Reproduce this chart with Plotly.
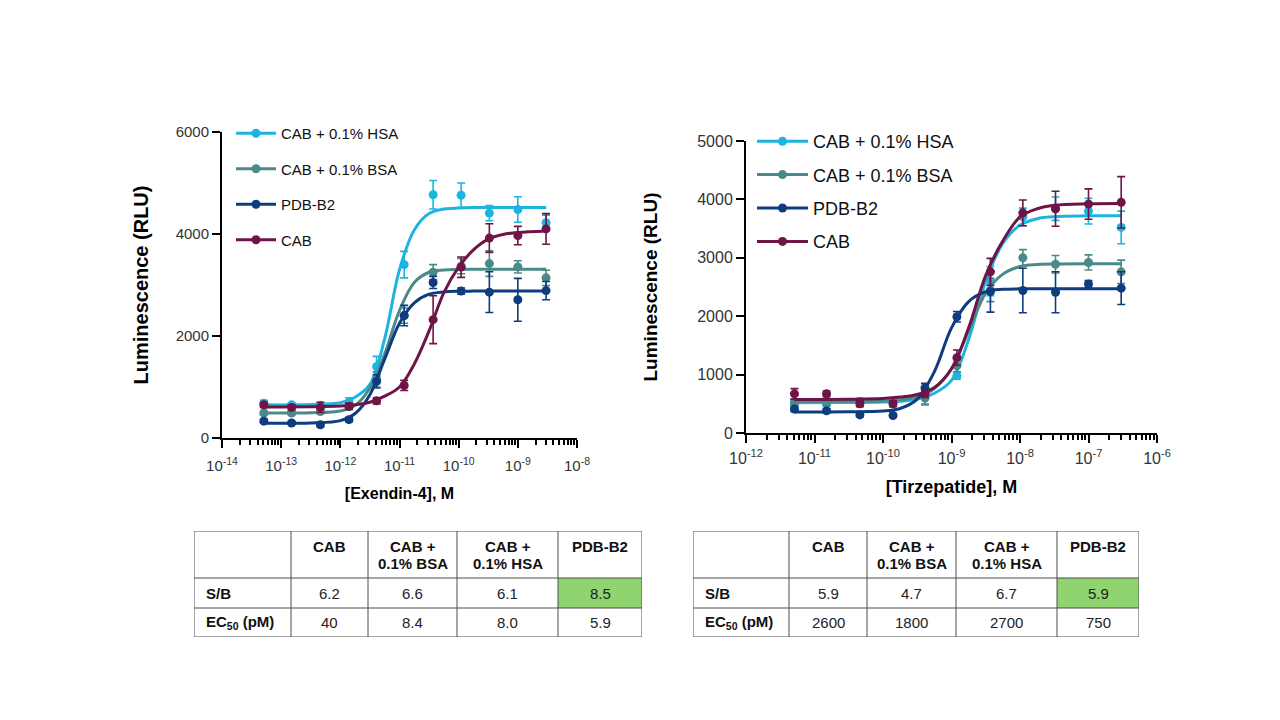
import numpy as np
import plotly.graph_objects as go

# series names / colours (legend order)
series_names = ["CAB + 0.1% HSA", "CAB + 0.1% BSA", "PDB-B2", "CAB"]
series_colors = ["#1cb5df", "#4b8a8a", "#0f3c7e", "#6e1446"]

# ---- Exendin-4 (left panel) ----
ex_conc = [5.1e-14, 1.5e-13, 4.6e-13, 1.4e-12, 4.1e-12, 1.2e-11, 3.7e-11, 1.1e-10, 3.3e-10, 1.0e-9, 3.0e-9]
ex_hsa = [680, 650, 640, 700, 1400, 3400, 4770, 4760, 4410, 4480, 4220]
ex_hsa_err = [60, 40, 50, 90, 200, 260, 280, 240, 150, 250, 150]
ex_bsa = [490, 490, 520, 620, 1150, 2400, 3250, 3370, 3420, 3355, 3140]
ex_bsa_err = [40, 40, 40, 60, 150, 150, 150, 150, 250, 120, 150]
ex_pdb = [330, 295, 260, 360, 1110, 2400, 3050, 2880, 2860, 2710, 2890]
ex_pdb_err = [40, 30, 40, 40, 130, 200, 120, 60, 400, 420, 180]
ex_cab = [650, 600, 600, 620, 730, 1030, 2320, 3350, 3920, 3970, 4100]
ex_cab_err = [50, 50, 100, 60, 60, 100, 470, 200, 280, 180, 300]

# fitted curves (log10 of concentration)
ex_fit_logx = [-13.3, -12.5, -12.0, -11.75, -11.5, -11.25, -11.0, -10.75, -10.5, -10.25, -10.0, -9.75, -9.5, -9.25, -9.0, -8.52]
ex_fit_hsa = [650, 655, 690, 800, 1050, 1950, 3300, 4080, 4400, 4490, 4510, 4518, 4520, 4520, 4520, 4520]
ex_fit_bsa = [490, 495, 530, 640, 980, 1650, 2500, 3050, 3250, 3295, 3305, 3308, 3310, 3310, 3310, 3310]
ex_fit_pdb = [290, 295, 340, 480, 850, 1550, 2250, 2650, 2820, 2865, 2878, 2880, 2880, 2880, 2880, 2880]
ex_fit_cab = [610, 612, 625, 650, 700, 820, 1000, 1450, 2100, 2850, 3350, 3690, 3900, 3990, 4030, 4060]

# ---- Tirzepatide (right panel) ----
tz_conc = [5.1e-12, 1.5e-11, 4.6e-11, 1.4e-10, 4.1e-10, 1.2e-9, 3.7e-9, 1.1e-8, 3.3e-8, 1.0e-7, 3.0e-7]
tz_hsa = [510, 510, 520, 520, 630, 980, 2600, 3700, 3840, 3800, 3520]
tz_hsa_err = [50, 50, 50, 50, 130, 60, 250, 150, 200, 220, 280]
tz_bsa = [520, 520, 540, 540, 600, 1150, 2450, 3000, 2890, 2920, 2760]
tz_bsa_err = [60, 50, 50, 50, 120, 100, 200, 140, 150, 130, 200]
tz_pdb = [410, 380, 310, 300, 770, 1990, 2420, 2440, 2410, 2550, 2480]
tz_pdb_err = [40, 40, 30, 30, 80, 90, 350, 380, 350, 60, 280]
tz_cab = [670, 670, 500, 500, 670, 1290, 2760, 3770, 3840, 3920, 3950]
tz_cab_err = [90, 50, 50, 50, 60, 130, 230, 220, 300, 260, 440]

tz_fit_logx = [-11.3, -10.5, -10.0, -9.75, -9.5, -9.25, -9.0, -8.75, -8.5, -8.25, -8.0, -7.75, -7.5, -7.0, -6.52]
tz_fit_hsa = [520, 522, 530, 545, 580, 680, 900, 1600, 2600, 3250, 3560, 3670, 3705, 3718, 3720]
tz_fit_bsa = [540, 542, 550, 570, 620, 760, 1100, 1750, 2400, 2720, 2850, 2885, 2895, 2900, 2900]
tz_fit_pdb = [360, 362, 375, 420, 580, 1050, 1800, 2250, 2420, 2460, 2468, 2470, 2470, 2470, 2470]
tz_fit_cab = [575, 578, 590, 615, 660, 780, 1100, 1800, 2700, 3290, 3700, 3840, 3900, 3925, 3930]

# x tick labels
ex_ticks = [1e-14, 1e-13, 1e-12, 1e-11, 1e-10, 1e-9, 1e-8]
ex_ticktext = ["10<sup>-14</sup>", "10<sup>-13</sup>", "10<sup>-12</sup>", "10<sup>-11</sup>",
               "10<sup>-10</sup>", "10<sup>-9</sup>", "10<sup>-8</sup>"]
tz_ticks = [1e-12, 1e-11, 1e-10, 1e-9, 1e-8, 1e-7, 1e-6]
tz_ticktext = ["10<sup>-12</sup>", "10<sup>-11</sup>", "10<sup>-10</sup>", "10<sup>-9</sup>",
               "10<sup>-8</sup>", "10<sup>-7</sup>", "10<sup>-6</sup>"]

# ---- tables ----
table_cols = ["CAB", "CAB +<br>0.1% BSA", "CAB +<br>0.1% HSA", "PDB-B2"]
table_rows = ["S/B", "EC<sub>50</sub> (pM)"]
ex_sb = ["6.2", "6.6", "6.1", "8.5"]
ex_ec50 = ["40", "8.4", "8.0", "5.9"]
tz_sb = ["5.9", "4.7", "6.7", "5.9"]
tz_ec50 = ["2600", "1800", "2700", "750"]

FONT = "Arial, Liberation Sans, sans-serif"
W, H = 1280, 720
OFF = 8  # page body margin shifts the figure by 8px
GREEN = "#8fd46e"
GRID = "#4d4d4d"


def px(x):
    return (x - OFF) / W


def py(y):
    return 1 - (y - OFF) / H


fig = go.Figure()


def add_panel(xa, ya, legend, conc, points, errs, fit_logx, fits):
    fit_x = 10 ** np.array(fit_logx)
    for name, color, y, e, fy in zip(series_names, series_colors, points, errs, fits):
        fig.add_trace(go.Scatter(
            x=fit_x, y=fy, mode="lines", xaxis=xa, yaxis=ya,
            line=dict(color=color, width=3, shape="spline", smoothing=1.0),
            showlegend=False, hoverinfo="skip", legendgroup=name + xa))
        fig.add_trace(go.Scatter(
            x=conc, y=y, mode="markers", xaxis=xa, yaxis=ya,
            marker=dict(color=color, size=9),
            error_y=dict(type="data", array=e, color=color, thickness=1.6, width=4),
            showlegend=False, legendgroup=name + xa))
        # legend entry (line + marker)
        fig.add_trace(go.Scatter(
            x=[None], y=[None], mode="lines+markers", xaxis=xa, yaxis=ya,
            name=name, legend=legend, legendgroup=name + xa,
            line=dict(color=color, width=3), marker=dict(color=color, size=9)))


add_panel("x", "y", "legend", ex_conc,
          [ex_hsa, ex_bsa, ex_pdb, ex_cab],
          [ex_hsa_err, ex_bsa_err, ex_pdb_err, ex_cab_err],
          ex_fit_logx, [ex_fit_hsa, ex_fit_bsa, ex_fit_pdb, ex_fit_cab])
add_panel("x2", "y2", "legend2", tz_conc,
          [tz_hsa, tz_bsa, tz_pdb, tz_cab],
          [tz_hsa_err, tz_bsa_err, tz_pdb_err, tz_cab_err],
          tz_fit_logx, [tz_fit_hsa, tz_fit_bsa, tz_fit_pdb, tz_fit_cab])

# tables drawn on hidden axes whose units are pixels of the cell grid
ROW_EDGES = [0, 47, 77, 106]


def add_table(n, col_w, sb, ec50):
    xr, yr = "x%d" % n, "y%d" % n
    edges = list(np.cumsum([0] + col_w))
    total = edges[-1]
    # green highlight on PDB-B2 S/B
    fig.add_shape(type="rect", xref=xr, yref=yr, x0=edges[4], x1=edges[5],
                  y0=ROW_EDGES[1], y1=ROW_EDGES[2], fillcolor=GREEN, line_width=0, layer="below")
    for ex in edges:
        fig.add_shape(type="line", xref=xr, yref=yr, x0=ex, x1=ex, y0=0, y1=ROW_EDGES[-1],
                      line=dict(color=GRID, width=1))
    for ey in ROW_EDGES:
        fig.add_shape(type="line", xref=xr, yref=yr, x0=0, x1=total, y0=ey, y1=ey,
                      line=dict(color=GRID, width=1))
    centers = [(edges[i] + edges[i + 1]) / 2 for i in range(len(col_w))]
    for c, label in zip(centers[1:], table_cols):
        for k, line in enumerate(label.split("<br>")):
            fig.add_annotation(x=c, y=15 + 17 * k, xref=xr, yref=yr, text="<b>%s</b>" % line,
                               showarrow=False, xanchor="center", yanchor="middle",
                               font=dict(family=FONT, size=15, color="#111"))
    row_mid = [(ROW_EDGES[1] + ROW_EDGES[2]) / 2, (ROW_EDGES[2] + ROW_EDGES[3]) / 2]
    for ym, label, vals in zip(row_mid, table_rows, [sb, ec50]):
        fig.add_annotation(x=10, y=ym, xref=xr, yref=yr, text="<b>%s</b>" % label,
                           showarrow=False, xanchor="left", yanchor="middle",
                           font=dict(family=FONT, size=15, color="#111"))
        for c, v in zip(centers[1:], vals):
            fig.add_annotation(x=c, y=ym, xref=xr, yref=yr, text=v,
                               showarrow=False, xanchor="center", yanchor="middle",
                               font=dict(family=FONT, size=15, color="#222"))
    return total


ex_tw = add_table(3, [97, 77, 89, 101, 84], ex_sb, ex_ec50)
tz_tw = add_table(4, [96, 78, 89, 101, 82], tz_sb, tz_ec50)

xcommon = dict(type="log", tickmode="array", showline=True, linecolor="black",
               linewidth=2, ticks="outside", ticklen=8, tickwidth=2, tickcolor="black",
               showgrid=False, zeroline=False, automargin=False,
               minor=dict(ticks="outside", dtick="D1", ticklen=5, tickwidth=1.5,
                          tickcolor="black", showgrid=False))
ycommon = dict(showline=True, linecolor="black", linewidth=2, ticks="outside", ticklen=8,
               tickwidth=2, tickcolor="black", showgrid=False, zeroline=False, automargin=False)
hidden = dict(visible=False, automargin=False, fixedrange=True)

fig.update_layout(
    width=W, height=H, paper_bgcolor="white", plot_bgcolor="white",
    margin=dict(l=0, r=0, t=0, b=0, autoexpand=False),
    font=dict(family=FONT, color="#222"),
    xaxis=dict(xcommon, domain=[px(222), px(577)], range=[-14, -8], anchor="y",
               tickvals=ex_ticks, ticktext=ex_ticktext, ticklabelstandoff=5,
               tickfont=dict(size=15, color="#333"),
               title=dict(text="<b>[Exendin-4], M</b>", font=dict(size=16, color="black"), standoff=15)),
    yaxis=dict(ycommon, domain=[py(438), py(132)], range=[0, 6000], anchor="x",
               tickvals=[0, 2000, 4000, 6000], tickfont=dict(size=15, color="#333"),
               title=dict(text="<b>Luminescence (RLU)</b>", font=dict(size=20, color="black"), standoff=22)),
    xaxis2=dict(xcommon, domain=[px(746), px(1157)], range=[-12, -6], anchor="y2",
                tickvals=tz_ticks, ticktext=tz_ticktext, ticklabelstandoff=2,
                tickfont=dict(size=16, color="#333"),
                title=dict(text="<b>[Tirzepatide], M</b>", font=dict(size=18, color="black"), standoff=14)),
    yaxis2=dict(ycommon, domain=[py(433), py(141)], range=[0, 5000], anchor="x2",
                dtick=1000, tickfont=dict(size=16, color="#333"),
                title=dict(text="<b>Luminescence (RLU)</b>", font=dict(size=19, color="black"), standoff=35)),
    xaxis3=dict(hidden, domain=[px(194), px(642)], range=[0, ex_tw], anchor="y3"),
    yaxis3=dict(hidden, domain=[py(637), py(531)], range=[ROW_EDGES[-1], 0], anchor="x3"),
    xaxis4=dict(hidden, domain=[px(693), px(1139)], range=[0, tz_tw], anchor="y4"),
    yaxis4=dict(hidden, domain=[py(637), py(531)], range=[ROW_EDGES[-1], 0], anchor="x4"),
    legend=dict(x=px(231), y=py(117), xanchor="left", yanchor="top", bgcolor="rgba(0,0,0,0)",
                font=dict(size=15, color="#111"), tracegroupgap=13, itemwidth=40, traceorder="grouped"),
    legend2=dict(x=px(752), y=py(123), xanchor="left", yanchor="top", bgcolor="rgba(0,0,0,0)",
                 font=dict(size=18, color="#111"), tracegroupgap=7, itemwidth=51, traceorder="grouped"),
)

fig.write_html("out.html")
